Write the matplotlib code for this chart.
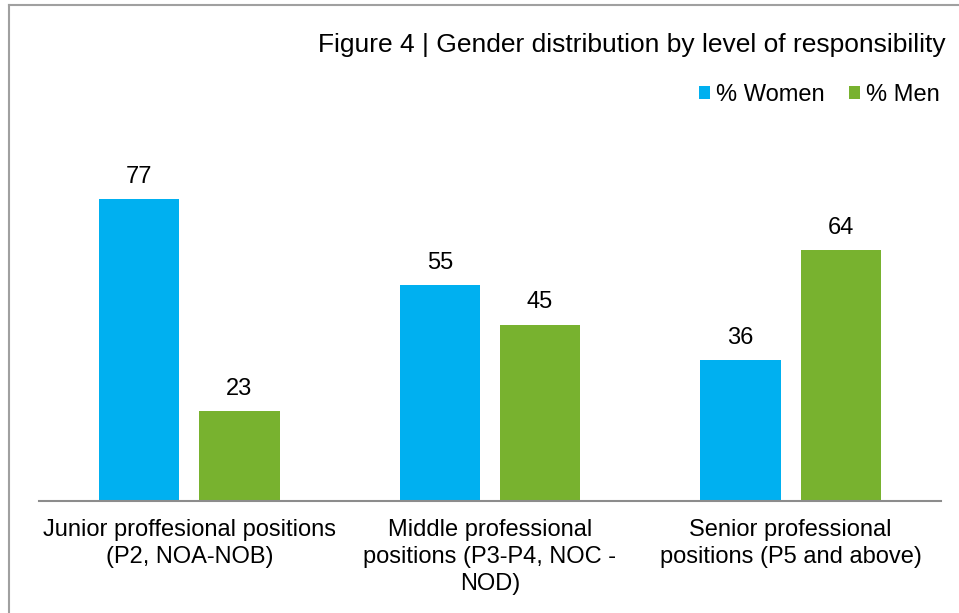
import matplotlib.pyplot as plt
import matplotlib.lines as mlines
import numpy as np

plt.rcParams['font.family'] = ['Liberation Sans', 'DejaVu Sans']

categories = ['Junior proffesional positions\n(P2, NOA-NOB)',
              'Middle professional\npositions (P3-P4, NOC -\nNOD)',
              'Senior professional\npositions (P5 and above)']
women = [77, 55, 36]
men = [23, 45, 64]

blue = '#00B0F0'
green = '#78B22F'

fig = plt.figure(figsize=(9.59, 6.13), dpi=100)
ax = fig.add_axes([39 / 959, 112 / 613, 902 / 959, 353 / 613])

x = np.arange(len(categories))
w = 80 / 300
gap = 20 / 300
b1 = ax.bar(x - (w + gap) / 2, women, width=w, color=blue, label='% Women')
b2 = ax.bar(x + (w + gap) / 2, men, width=w, color=green, label='% Men')

for bars in (b1, b2):
    for r in bars:
        ax.annotate('%d' % r.get_height(), (r.get_x() + r.get_width() / 2, r.get_height()),
                    xytext=(0, 8), textcoords='offset points', ha='center', va='bottom',
                    fontsize=17, color='black')

ax.set_xlim(-0.5, 2.5)
ax.set_ylim(0, 90)
ax.set_yticks([])
ax.set_xticks(x)
ax.set_xticklabels(categories, fontsize=17, linespacing=1.3)
ax.tick_params(axis='x', length=0, pad=13)
for s in ['top', 'right', 'left']:
    ax.spines[s].set_visible(False)
ax.spines['bottom'].set_color('#8c8c8c')
ax.spines['bottom'].set_linewidth(1.5)

fig.text(946 / 959, 1 - 45 / 613, 'Figure 4 | Gender distribution by level of responsibility',
         ha='right', va='center', fontsize=19)

leg = fig.legend(handles=[b1, b2], loc='center right', bbox_to_anchor=(940 / 959, 1 - 95 / 613),
                 ncol=2, frameon=False, fontsize=17, handlelength=0.5, handleheight=0.5,
                 handletextpad=0.25, columnspacing=1.0, borderaxespad=0, borderpad=0)

# chart frame (cut off at right and bottom)
fig.add_artist(mlines.Line2D([9 / 959, 1], [1 - 5 / 613, 1 - 5 / 613], color='#a0a0a0', lw=1.5))
fig.add_artist(mlines.Line2D([9 / 959, 9 / 959], [0, 1 - 5 / 613], color='#a0a0a0', lw=1.5))

plt.savefig('out.png', dpi=100)
